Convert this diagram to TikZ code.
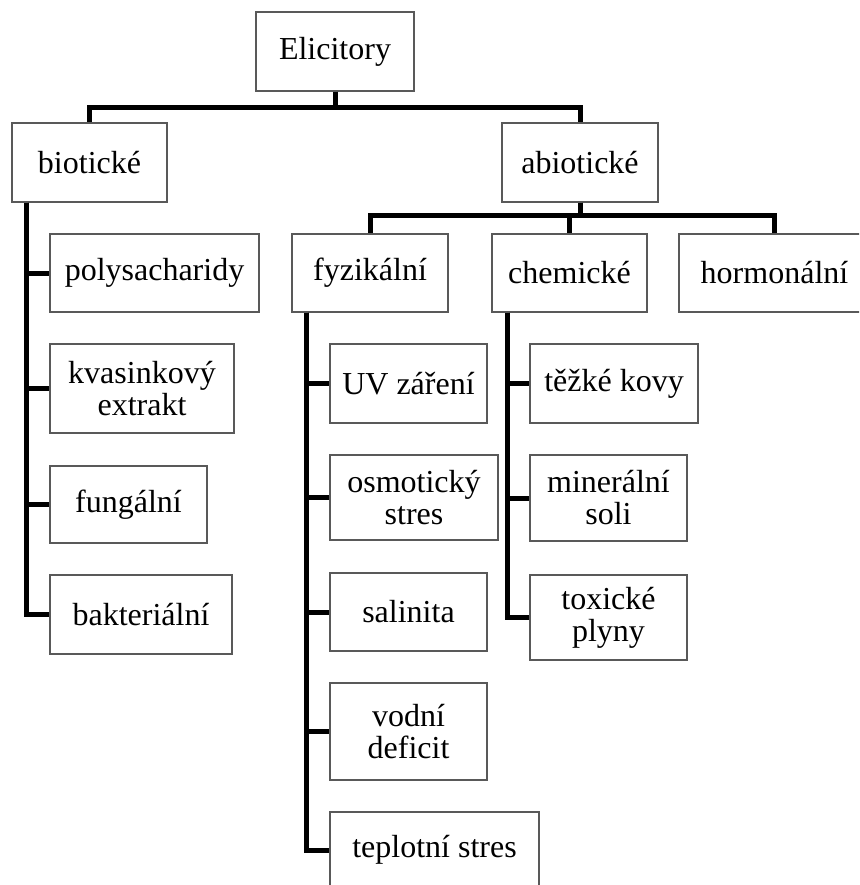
\documentclass[tikz,border=0pt]{standalone}
\usepackage{fontspec}
\setmainfont{Liberation Serif}
\usepackage{tikz}

\begin{document}
\begin{tikzpicture}[x=1pt, y=-1pt,
  box/.style 2 args={draw=gray!70!black, line width=1.2pt, align=center, inner sep=0pt,
    minimum width=#1pt, minimum height=#2pt, font=\fontsize{32}{32}\selectfont},
  conn/.style={black, line width=5pt}]
\useasboundingbox (0,0) rectangle (859,885);
\clip (0,0) rectangle (859,885);
% top levels
\node [box={158}{79}] (elic) at (335,51.5) {Elicitory};
\node [box={155}{79}] (biot) at (89.5,162.5) {biotické};
\node [box={156}{79}] (abiot) at (580,162.5) {abiotické};
\node [box={156}{78}] (fyz) at (370,273) {fyzikální};
\node [box={155}{78}] (chem) at (569.5,273) {chemické};
\node [box={191}{78}] (horm) at (774.5,273) {hormonální};
% biotic
\node [box={209}{78}] (poly) at (154.5,273) {polysacharidy};
\node [box={184}{89}] (kvas) at (142,388.5) {kvasinkový\\extrakt};
\node [box={157}{77}] (fung) at (128.5,504.5) {fungální};
\node [box={182}{79}] (bakt) at (141,614.5) {bakteriální};
% physical
\node [box={157}{79}] (uv) at (408.5,383.5) {UV záření};
\node [box={168}{85}] (osm) at (414,497.5) {osmotický\\stres};
\node [box={157}{78}] (sal) at (408.5,612) {salinita};
\node [box={157}{97}] (vod) at (408.5,731.5) {vodní\\deficit};
\node [box={209}{76}] (tepl) at (434.5,850) {teplotní stres};
% chemical
\node [box={168}{79}] (tez) at (614,383.5) {těžké kovy};
\node [box={157}{86}] (min) at (608.5,498) {minerální\\soli};
\node [box={157}{85}] (tox) at (608.5,617.5) {toxické\\plyny};
% connectors
\draw [conn] (elic.south) -- ++(0,16) -| (biot.north);
\draw [conn] (elic.south) -- ++(0,16) -| (abiot.north);
\draw [conn] (abiot.south) -- ++(0,13) -| (fyz.north);
\draw [conn] (abiot.south) -- ++(0,13) -| (chem.north);
\draw [conn] (abiot.south) -- ++(0,13) -| (horm.north);
\foreach \k in {poly,kvas,fung,bakt}
  \draw [conn] ([xshift=15pt]biot.south west) |- (\k.west);
\foreach \k in {uv,osm,sal,vod,tepl}
  \draw [conn] ([xshift=15pt]fyz.south west) |- (\k.west);
\foreach \k in {tez,min,tox}
  \draw [conn] ([xshift=16pt]chem.south west) |- (\k.west);
\end{tikzpicture}
\end{document}
